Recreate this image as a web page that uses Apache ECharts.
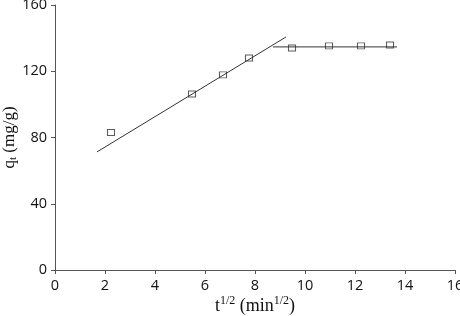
<!DOCTYPE html>
<html>
<head>
<meta charset="utf-8">
<script src="https://cdn.jsdelivr.net/npm/echarts@6/dist/echarts.min.js"></script>
<style>
  html, body { margin: 0; padding: 0; background: #fff; }
  #chart { width: 460px; height: 316px; }
</style>
</head>
<body>
<div id="chart"></div>
<script>
  // measured points: t^1/2 vs qt
  const sqrtT = [2.24, 5.48, 6.72, 7.76, 9.48, 10.96, 12.24, 13.4]
  const qt = [83, 106.3, 117.8, 128, 134, 135.3, 135.3, 135.9]
  // fitted lines (end points)
  const fit1X = [1.68, 9.24]
  const fit1Y = [71.3, 140.7]
  const fit2X = [8.72, 13.68]
  const fit2Y = [134.7, 134.7]

  const tickFont = 'Open Sans, Liberation Sans, sans-serif'
  const serif = 'Liberation Serif, DejaVu Serif, serif'

  const axisCommon = {
    axisLine: {show: true, lineStyle: {color: '#555', width: 1}},
    axisTick: {show: true, length: 4, lineStyle: {color: '#555'}},
    splitLine: {show: false},
    axisLabel: {color: '#111', fontSize: 14.5, fontFamily: tickFont},
    nameMoveOverlap: false
  }

  const chart = echarts.init(document.getElementById('chart'))
  chart.setOption({
    animation: false,
    grid: {left: 55, right: 5, top: 5, bottom: 46, containLabel: false, outerBoundsMode: 'none'},
    xAxis: Object.assign({
      type: 'value', min: 0, max: 16, interval: 2,
      name: '{b|t}{s|1/2}{b| (min}{s|1/2}{b|)}',
      nameLocation: 'middle', nameGap: 25,
      nameTextStyle: {
        rich: {
          b: {fontFamily: serif, fontSize: 18, color: '#111', lineHeight: 20, verticalAlign: 'bottom'},
          s: {fontFamily: serif, fontSize: 12, color: '#111', lineHeight: 20, verticalAlign: 'top'}
        }
      }
    }, axisCommon),
    yAxis: Object.assign({
      type: 'value', min: 0, max: 160, interval: 40,
      name: '{b|q}{s|t}{b| (mg/g)}',
      nameLocation: 'middle', nameGap: 36, nameRotate: 90,
      nameTextStyle: {
        rich: {
          b: {fontFamily: serif, fontSize: 17, color: '#111', lineHeight: 18, verticalAlign: 'top'},
          s: {fontFamily: serif, fontSize: 11, color: '#111', lineHeight: 18, verticalAlign: 'bottom'}
        }
      }
    }, axisCommon),
    series: [
      {
        type: 'line', data: fit1X.map((x, i) => [x, fit1Y[i]]),
        showSymbol: false, lineStyle: {color: '#333', width: 1}
      },
      {
        type: 'line', data: fit2X.map((x, i) => [x, fit2Y[i]]),
        showSymbol: false, lineStyle: {color: '#333', width: 1}
      },
      {
        type: 'scatter', data: sqrtT.map((x, i) => [x, qt[i]]),
        symbol: 'rect', symbolSize: [7, 6],
        itemStyle: {color: 'none', borderColor: '#333', borderWidth: 1}
      }
    ]
  })
</script>
</body>
</html>
